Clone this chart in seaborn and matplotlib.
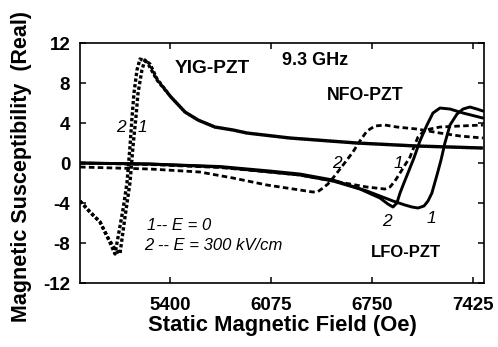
import matplotlib
matplotlib.use("Agg")
import matplotlib.pyplot as plt
import pandas as pd
import seaborn as sns

# Static field (Oe) and real part of the susceptibility for each bilayer.
# "e0" = E = 0, "e300" = E = 300 kV/cm.
yig_e0_h = [4800, 4867, 4934, 4987, 5034, 5067, 5101, 5134, 5154, 5174, 5188, 5214, 5234,
            5268, 5315, 5408, 5502, 5589, 5702, 5823, 5916, 6203, 6651, 7052, 7493]
yig_e0_chi = [-3.8, -4.9, -5.9, -7.5, -8.6, -9.1, -5.4, -2.0, 1.6, 4.6, 7.0, 9.3, 10.3,
              9.9, 8.4, 6.6, 5.1, 4.3, 3.6, 3.3, 3.0, 2.5, 2.0, 1.7, 1.5]

yig_e300_h = [4800, 4867, 4934, 4987, 5034, 5087, 5114, 5134, 5148, 5161, 5181, 5201,
              5248, 5315, 5408, 5502, 5589, 5702, 5823, 5916, 6203, 6651, 7052, 7493]
yig_e300_chi = [-3.8, -4.9, -5.9, -7.5, -9.1, -4.7, -2.0, 1.6, 4.6, 7.0, 9.3, 10.4,
                10.1, 8.3, 6.6, 5.1, 4.3, 3.6, 3.3, 3.0, 2.5, 2.0, 1.7, 1.5]

lfo_e0_h = [4800, 5268, 5736, 6070, 6270, 6491, 6718, 6892, 6972, 7019, 7059, 7099,
            7126, 7152, 7186, 7213, 7239, 7273, 7320, 7360, 7406, 7453, 7493]
lfo_e0_chi = [0.0, -0.1, -0.35, -0.8, -1.1, -1.7, -2.8, -3.8, -4.2, -4.4, -4.5, -4.3,
              -3.8, -3.0, -1.2, 0.3, 2.0, 3.8, 4.9, 5.4, 5.6, 5.4, 5.2]

lfo_e300_h = [4800, 5268, 5736, 6070, 6270, 6491, 6671, 6805, 6858, 6892, 6918, 6939,
              6965, 6992, 7032, 7072, 7119, 7159, 7206, 7273, 7360, 7493]
lfo_e300_chi = [0.0, -0.1, -0.4, -0.9, -1.2, -1.8, -2.6, -3.5, -4.1, -4.4, -4.0, -3.0,
                -2.0, -1.0, 0.5, 2.2, 3.8, 5.0, 5.5, 5.4, 5.0, 4.5]

nfo_e0_h = [4800, 5268, 5736, 6070, 6270, 6491, 6718, 6838, 6872, 6905, 6939, 6972,
            7006, 7032, 7059, 7092, 7139, 7206, 7340, 7493]
nfo_e0_chi = [0.0, -0.15, -0.45, -0.9, -1.2, -1.8, -2.4, -2.6, -2.4, -1.8, -1.0, -0.2,
              0.6, 1.6, 2.6, 3.1, 3.4, 3.6, 3.7, 3.8]

nfo_e300_h = [4800, 5268, 5602, 5823, 6050, 6270, 6357, 6391, 6424, 6457, 6491, 6538,
              6584, 6624, 6671, 6718, 6771, 6838, 6918, 7052, 7206, 7340, 7493]
nfo_e300_chi = [-0.4, -0.6, -0.9, -1.5, -2.2, -2.7, -2.9, -2.85, -2.5, -2.1, -1.5, -0.6,
                0.3, 1.1, 2.2, 3.2, 3.7, 3.8, 3.6, 3.4, 3.0, 2.7, 2.5]

x_ticks = [5400, 6075, 6750, 7425]
y_ticks = [-12, -8, -4, 0, 4, 8, 12]

sns.set_style("ticks")
plt.rcParams["font.family"] = ["Liberation Sans", "DejaVu Sans"]
plt.rcParams["font.weight"] = "bold"
plt.rcParams["text.color"] = "black"
plt.rcParams["axes.labelcolor"] = "black"
plt.rcParams["xtick.color"] = "black"
plt.rcParams["ytick.color"] = "black"

fig = plt.figure(figsize=(4.98, 3.47), dpi=100)
ax = fig.add_axes([0.1606, 0.1844, 0.8112, 0.6916])

dotted = (0, (1.0, 0.7))
dashed = (0, (2.0, 1.2))
curves = [
    (yig_e0_h, yig_e0_chi, dotted, 2.4),
    (yig_e300_h, yig_e300_chi, dotted, 2.4),
    (nfo_e0_h, nfo_e0_chi, dashed, 2.0),
    (nfo_e300_h, nfo_e300_chi, dashed, 2.0),
    (lfo_e0_h, lfo_e0_chi, "-", 2.1),
    (lfo_e300_h, lfo_e300_chi, "-", 2.1),
]
for h, chi, ls, lw in curves:
    df = pd.DataFrame({"H": h, "chi": chi})
    sns.lineplot(data=df, x="H", y="chi", ax=ax, color="black", linestyle=ls,
                 linewidth=lw, sort=False, estimator=None)

ax.set_xlim(4800, 7500)
ax.set_ylim(-12, 12)
ax.set_xticks(x_ticks)
ax.set_yticks(y_ticks)
ax.set_xticklabels([str(t) for t in x_ticks])
ax.set_yticklabels([str(t) for t in y_ticks])
ax.tick_params(direction="in", top=True, right=True, length=4.5, width=1.1,
               labelsize=13.5, color="black", labelcolor="black")
ax.tick_params(axis="x", pad=10)
ax.tick_params(axis="y", pad=7)
for s in ax.spines.values():
    s.set_linewidth(1.2)
    s.set_color("black")

ax.set_xlabel("Static Magnetic Field (Oe)", fontsize=15.8, fontweight="bold", labelpad=1)
ax.set_ylabel("Magnetic Susceptibility  (Real)", fontsize=15.5, fontweight="bold")
ax.yaxis.set_label_coords(-0.118, 0.485)

bold = dict(fontweight="bold", ha="center", va="center")
ax.text(5685, 9.5, "YIG-PZT", fontsize=13.8, **bold)
ax.text(6370, 10.3, "9.3 GHz", fontsize=13, **bold)
ax.text(6705, 6.8, "NFO-PZT", fontsize=12.8, **bold)
ax.text(6979, -8.9, "LFO-PZT", fontsize=12, **bold)

ital = dict(fontstyle="italic", fontweight="normal", va="center")
ax.text(5245, -6.2, "1-- E = 0", fontsize=12, ha="left", **ital)
ax.text(5230, -8.2, "2 -- E = 300 kV/cm", fontsize=12, ha="left", **ital)
ax.text(5074, 3.6, "2", fontsize=12.5, ha="center", **ital)
ax.text(5218, 3.6, "1", fontsize=12.5, ha="center", **ital)
ax.text(6517, 0.0, "2", fontsize=12.5, ha="center", **ital)
ax.text(6925, 0.0, "1", fontsize=12.5, ha="center", **ital)
ax.text(6852, -5.8, "2", fontsize=12.5, ha="center", **ital)
ax.text(7146, -5.5, "1", fontsize=12.5, ha="center", **ital)

fig.savefig("out.png", dpi=100)
